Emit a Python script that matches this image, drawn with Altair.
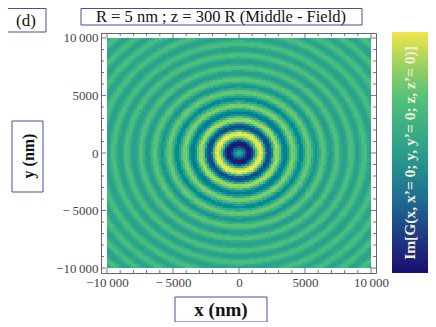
import numpy as np
import pandas as pd
import altair as alt

alt.data_transformers.disable_max_rows()

# Colour read along the ring radius, one value every RADIUS_STEP_NM
RADIUS_STEP_NM = 100
RADIAL_PROFILE = [
    .56, .55, .50, .42, .32, .20, .10, .04, .02, .05,
    .15, .32, .52, .72, .88, .97, 1.0, 1.0, .92, .72,
    .48, .28, .19, .19, .26, .40, .58, .76, .87, .89,
    .84, .73, .60, .47, .38, .36, .39, .47, .58, .70,
    .79, .82, .78, .70, .60, .50, .44, .42, .45, .52,
    .61, .70, .76, .77, .73, .66, .57, .50, .47, .48,
    .53, .60, .67, .73, .74, .71, .65, .58, .52, .49,
    .50, .55, .62, .68, .72, .71, .66, .60, .54, .51,
    .50, .53, .58, .64, .69, .71, .69, .64, .58, .53,
    .51, .53, .58, .64, .69, .70, .68, .64, .58, .54,
    .51, .52, .55, .60, .65, .69, .70, .68, .63, .58,
    .54, .52, .54, .58, .63, .68, .70, .68, .64, .59,
    .55, .52, .53, .57, .62, .67, .70, .69, .65, .60,
    .55, .53, .52, .55, .60, .65, .69, .70, .67, .62,
    .57, .53, .52,
]
COLOR_STOPS = [0, .15, .3, .5, .72, .88, 1]
COLOR_RANGE = ["#1a0e6e", "#1f3a82", "#1f6a92", "#2a9e8c", "#52c07a", "#a6d45e", "#f2e64a"]

MAJOR_TICKS = [-10000, -5000, 0, 5000, 10000]
MAJOR_LABELS = ["\u221210\u2009000", "\u2212\u20095000", "0", "5000", "10\u2009000"]
MINOR_TICKS = [-9000, -8000, -7000, -6000, -4000, -3000, -2000, -1000,
               1000, 2000, 3000, 4000, 6000, 7000, 8000, 9000]

TITLE = "R = 5 nm ; z = 300 R (Middle - Field)"
PANEL = "(d)"
X_TITLE = "x (nm)"
Y_TITLE = "y (nm)"
BAR_TITLE = "Im[G(x, x\u2019= 0; y, y\u2019= 0; z, z\u2019= 0)]"

FONT = "Liberation Serif"
BOX = "#4b4b9e"
W, H = 275, 240

x_edges = np.linspace(-10000, 10000, 133)
y_edges = np.linspace(-10000, 10000, 116)
xx, yy = np.meshgrid(x_edges[:-1], y_edges[:-1])
dx, dy = x_edges[1] - x_edges[0], y_edges[1] - y_edges[0]
cx, cy = xx + dx / 2, yy + dy / 2
idx = np.minimum(np.round(np.hypot(cx, cy) / RADIUS_STEP_NM).astype(int), len(RADIAL_PROFILE) - 1)
cells = pd.DataFrame({
    "x": xx.ravel().round(2), "x2": (xx + dx).ravel().round(2),
    "y": yy.ravel().round(2), "y2": (yy + dy).ravel().round(2),
    "v": np.array(RADIAL_PROFILE)[idx].ravel(),
})

xs = alt.Scale(domain=[-10454.55, 10378.79], nice=False, zero=False)
ys = alt.Scale(domain=[-10434.78, 10434.78], nice=False, zero=False)
cs = alt.Scale(domain=COLOR_STOPS, range=COLOR_RANGE)

lab = "{" + ",".join(f"'{v}':'{t}'" for v, t in zip(MAJOR_TICKS, MAJOR_LABELS)) + "}[datum.value]"
ax_common = dict(values=MAJOR_TICKS, labelExpr=lab, ticks=False, domain=False, grid=False, title=None,
                 labelFont=FONT, labelFontSize=13, labelColor="#444444", labelOverlap=False,
                 labelFlush=False, labelBound=False, labelPadding=3)
AX = alt.Axis(**ax_common)

heat = alt.Chart(cells).mark_rect(strokeWidth=0).encode(
    x=alt.X("x:Q", scale=xs, axis=AX),
    x2="x2:Q",
    y=alt.Y("y:Q", scale=ys, axis=AX),
    y2="y2:Q",
    color=alt.Color("v:Q", scale=cs, legend=None),
)


def xticks(vals, y0, y1, w=0.8):
    return alt.Chart(pd.DataFrame({"t": vals})).mark_rule(color="#555555", strokeWidth=w).encode(
        x=alt.X("t:Q", scale=xs, axis=AX), y=alt.value(y0), y2=alt.value(y1))


def yticks(vals, x0, x1, w=0.8):
    return alt.Chart(pd.DataFrame({"t": vals})).mark_rule(color="#555555", strokeWidth=w).encode(
        y=alt.Y("t:Q", scale=ys, axis=AX), x=alt.value(x0), x2=alt.value(x1))


def box(x0, x1, y0, y1):
    return alt.Chart(alt.Data(values=[{}])).mark_rect(fill="white", stroke=BOX, strokeWidth=1, clip=False).encode(
        x=alt.value(x0), x2=alt.value(x1), y=alt.value(y0), y2=alt.value(y1))


def text(s, x, y, size, angle=0, bold=False, color="#111111"):
    return alt.Chart(alt.Data(values=[{}])).mark_text(
        font=FONT, fontSize=size, angle=angle, fontWeight="bold" if bold else "normal",
        color=color, align="center", baseline="middle", clip=False
    ).encode(x=alt.value(x), y=alt.value(y), text=alt.value(s))


OX, OY = 101, 33
gradient = alt.LinearGradient(
    gradient="linear", x1=0, x2=0, y1=1, y2=0,
    stops=[alt.GradientStop(color=c, offset=o) for c, o in zip(COLOR_RANGE, COLOR_STOPS)],
)
bar = alt.Chart(alt.Data(values=[{}])).mark_rect(fill=gradient, clip=False).encode(
    x=alt.value(392 - OX), x2=alt.value(428 - OX), y=alt.value(32 - OY), y2=alt.value(273 - OY))

chart = alt.layer(
    heat,
    xticks(MAJOR_TICKS, H, H - 5), xticks(MINOR_TICKS, H, H - 3),
    xticks(MAJOR_TICKS, 0, 5), xticks(MINOR_TICKS, 0, 3),
    yticks(MAJOR_TICKS, 0, 5), yticks(MINOR_TICKS, 0, 3),
    yticks(MAJOR_TICKS, W, W - 5), yticks(MINOR_TICKS, W, W - 3),
    box(6.5 - OX, 46 - OX, 8.5 - OY, 32 - OY), text(PANEL, 26 - OX, 20.5 - OY, 17),
    box(81 - OX, 362 - OX, 8.5 - OY, 25 - OY), text(TITLE, 221 - OX, 16.5 - OY, 16.5),
    box(175 - OX, 267 - OX, 297 - OY, 322 - OY), text(X_TITLE, 221 - OX, 310 - OY, 19, bold=True),
    box(12 - OX, 43 - OX, 121 - OY, 192 - OY), text(Y_TITLE, 29 - OX, 156 - OY, 16, angle=270, bold=True),
    bar, text(BAR_TITLE, 410 - OX, 153 - OY, 15.5, angle=270, bold=True, color="#eef3d8"),
).resolve_scale(color="shared").properties(
    width=W, height=H,
    autosize=alt.AutoSizeParams(type="none"),
    padding={"left": OX - 8, "top": OY - 8, "right": 52, "bottom": 49},
).configure_view(stroke="#666666", strokeWidth=1)

chart.save("out.html", embed_options={"renderer": "svg", "actions": False})
